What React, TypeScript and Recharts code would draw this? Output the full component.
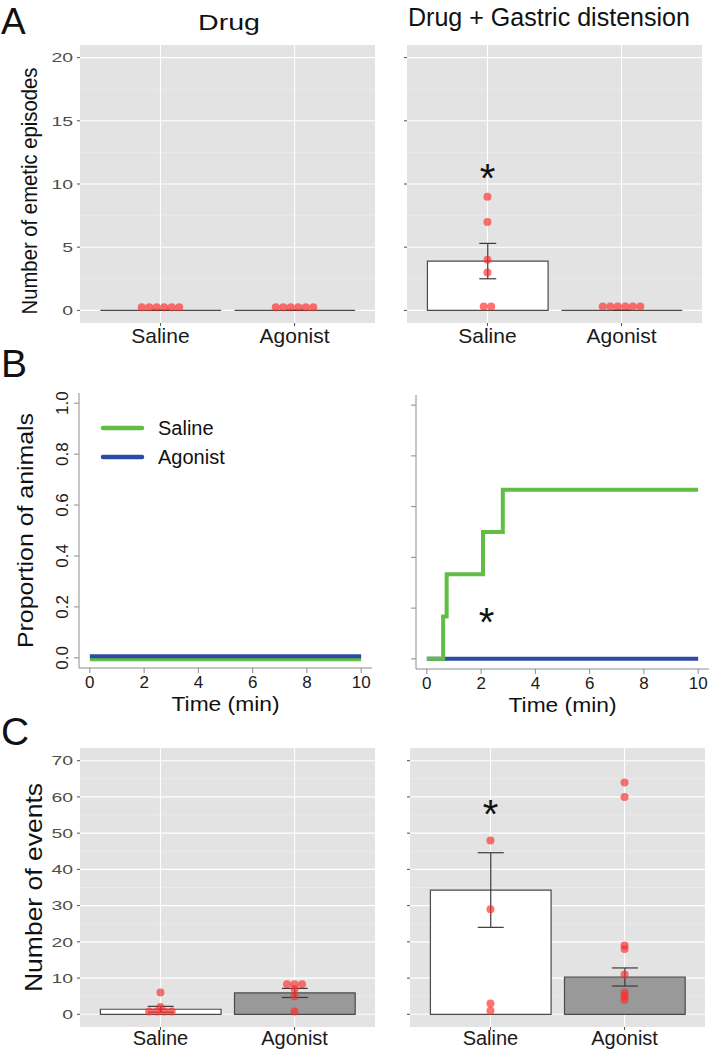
import React from "react";
import {
  ComposedChart,
  LineChart,
  Line,
  Bar,
  ErrorBar,
  Scatter,
  XAxis,
  YAxis,
  CartesianGrid,
  ReferenceDot,
  Legend,
  Label,
} from "recharts";

const FONT = "'Liberation Sans', Arial, Helvetica, sans-serif";
const PANEL_BG = "#e3e3e3";
const DOT_RED = "#ff2a2a";
const GREEN = "#62bd45";
const BLUE = "#2c4ba5";

const groups = ["Saline", "Agonist"];

// A - number of emetic episodes
const emesisTicks = [0, 5, 10, 15, 20];
const emesisMinor = [2.5, 7.5, 12.5, 17.5];
const emesisDrugMean = [0, 0];
const emesisDrugErr = [0, 0];
const emesisDrugSaline = [0.25, 0.25, 0.25, 0.25, 0.25, 0.25];
const emesisDrugAgonist = [0.25, 0.25, 0.25, 0.25, 0.25, 0.25];
const emesisGdMean = [3.9, 0];
const emesisGdErr = [1.4, 0];
const emesisGdSaline = [9, 7, 4, 3, 0.3, 0.3];
const emesisGdAgonist = [0.3, 0.3, 0.3, 0.3, 0.3, 0.3];

// B - proportion of animals over time
const timeTicks = [0, 2, 4, 6, 8, 10];
const propTicks = [0, 0.2, 0.4, 0.6, 0.8, 1];
const drugSalineT = [0, 10];
const drugSalineP = [-0.006, -0.006];
const drugAgonistT = [0, 10];
const drugAgonistP = [0.006, 0.006];
const gdSalineT = [0, 0.6, 0.73, 2.07, 2.8, 10];
const gdSalineP = [0, 0.167, 0.333, 0.5, 0.667, 0.667];
const gdAgonistT = [0, 10];
const gdAgonistP = [0, 0];

// C - number of events
const eventTicks = [0, 10, 20, 30, 40, 50, 60, 70];
const eventMinor = [5, 15, 25, 35, 45, 55, 65];
const eventDrugMean = [1.4, 5.9];
const eventDrugErr = [0.8, 1.25];
const eventDrugSaline = [6, 2, 0.8, 0.8, 0.8, 0.8];
const eventDrugAgonist = [8.3, 8.3, 8.3, 7, 5, 0.8];
const eventGdMean = [34.3, 10.3];
const eventGdErr = [10.3, 2.5];
const eventGdSaline = [48, 29, 3, 1];
const eventGdAgonist = [64, 60, 19, 18, 11, 6, 5, 4];

const DOT_STEP = 0.056;

// dotplot style: equal values are spread sideways around the group centre
function dotplot(vals: number[], centre: number) {
  return vals.map((v, i) => {
    const n = vals.filter((w) => w === v).length;
    const k = vals.slice(0, i).filter((w) => w === v).length;
    return { x: centre + (k - (n - 1) / 2) * DOT_STEP, v };
  });
}

const toSeries = (t: number[], p: number[]) => t.map((tt, i) => ({ t: tt, p: p[i] }));

const catTick = (dy: number, size: number) => (props: any) => (
  <text x={props.x} y={props.y} dy={dy} textAnchor="middle" fontSize={size} fontFamily={FONT} fill="#1a1a1a">
    {groups[props.payload.value - 1]}
  </text>
);

const ggTick = (props: any) => {
  const s = String(props.payload.value);
  return (
    <text
      x={props.x}
      y={props.y}
      dy={4.8}
      textAnchor="end"
      fontSize={13.5}
      fontFamily={FONT}
      fill="#4d4d4d"
      textLength={s.length * 10.8}
      lengthAdjust="spacingAndGlyphs"
    >
      {s}
    </text>
  );
};

const blankTick = () => <g />;

const vTitle = (text: string, len: number, size: number, bx: number, dy = 0) => (props: any) => {
  const vb = props.viewBox;
  const cy = vb.y + vb.height / 2 + dy;
  return (
    <text
      x={bx}
      y={cy}
      transform={`rotate(-90 ${bx} ${cy})`}
      textAnchor="middle"
      fontSize={size}
      fontFamily={FONT}
      fill="#111"
      textLength={len}
      lengthAdjust="spacingAndGlyphs"
    >
      {text}
    </text>
  );
};

const BarShape = (props: any) => {
  const { x, y, width, height, payload } = props;
  const h = Math.max(height || 0, 0);
  return (
    <path
      d={`M${x},${y}h${width}v${h}h${-width}Z`}
      fill={payload.fill}
      stroke="#4a4a4a"
      strokeWidth={1.2}
    />
  );
};

const DotShape = (props: any) => (
  <circle cx={props.cx} cy={props.cy} r={4} fill={DOT_RED} fillOpacity={0.66} />
);

const StarShape = (props: any) => (
  <text x={props.cx} y={props.cy + 23} textAnchor="middle" fontSize={40} fontFamily={FONT} fill="#111">
    *
  </text>
);

type BarPanelProps = {
  width: number;
  height: number;
  top: number;
  right: number;
  yWidth: number;
  xHeight: number;
  labelDy: number;
  labelSize: number;
  domain: [number, number];
  ticks: number[];
  minor: number[];
  means: number[];
  errs: number[];
  fills: string[];
  saline: number[];
  agonist: number[];
  cap: number;
  showY: boolean;
  title?: { text: string; len: number; size: number; bx: number; dy: number };
  star?: number;
};

function BarPanel(p: BarPanelProps) {
  const rows = groups.map((g, i) => ({
    x: i + 1,
    group: g,
    mean: p.means[i],
    err: [p.errs[i], p.errs[i]],
    fill: p.fills[i],
  }));
  const plotW = p.width - p.yWidth - p.right;
  const barSize = (plotW * 0.9) / 2.2;
  const dots = [...dotplot(p.saline, 1), ...dotplot(p.agonist, 2)];
  return (
    <ComposedChart width={p.width} height={p.height} data={rows} margin={{ top: p.top, right: p.right, bottom: 0, left: 0 }}>
      <CartesianGrid fill={PANEL_BG} fillOpacity={1} stroke="#efefef" strokeWidth={0.6} vertical={false} horizontalValues={p.minor} />
      <CartesianGrid stroke="#ffffff" strokeWidth={1.1} horizontalValues={p.ticks} verticalValues={[1, 2]} />
      <XAxis
        type="number"
        dataKey="x"
        domain={[0.4, 2.6]}
        ticks={[1, 2]}
        allowDataOverflow
        height={p.xHeight}
        axisLine={false}
        tickSize={3}
        tickMargin={2}
        tickLine={{ stroke: "#4d4d4d" }}
        tick={catTick(p.labelDy, p.labelSize)}
        interval={0}
      />
      <XAxis xAxisId="dots" type="number" dataKey="x" domain={[0.4, 2.6]} allowDataOverflow hide />
      <YAxis
        type="number"
        domain={p.domain}
        ticks={p.ticks}
        allowDataOverflow
        width={p.yWidth}
        axisLine={false}
        tickSize={3}
        tickMargin={4}
        tickLine={{ stroke: "#4d4d4d" }}
        tick={p.showY ? ggTick : blankTick}
        interval={0}
      >
        {p.title && <Label content={vTitle(p.title.text, p.title.len, p.title.size, p.title.bx, p.title.dy)} />}
      </YAxis>
      <Bar dataKey="mean" barSize={barSize} isAnimationActive={false} shape={BarShape}>
        <ErrorBar dataKey="err" width={p.cap} stroke="#3a3a3a" strokeWidth={1.2} direction="y" />
      </Bar>
      <Scatter xAxisId="dots" data={dots} dataKey="v" isAnimationActive={false} shape={DotShape} />
      {p.star !== undefined && <ReferenceDot x={1} y={p.star} r={0} shape={StarShape} />}
    </ComposedChart>
  );
}

const rTick = (show: boolean) => (props: any) => {
  if (!show) return <g />;
  const bx = props.x - 6;
  return (
    <text x={bx} y={props.y} transform={`rotate(-90 ${bx} ${props.y})`} textAnchor="middle" fontSize={17} fontFamily={FONT} fill="#1a1a1a">
      {Number(props.payload.value).toFixed(1)}
    </text>
  );
};

const timeTick = (props: any) => (
  <text x={props.x} y={props.y} dy={15} textAnchor="middle" fontSize={17} fontFamily={FONT} fill="#1a1a1a">
    {props.payload.value}
  </text>
);

const timeTitle = (props: any) => {
  const vb = props.viewBox;
  return (
    <text x={vb.x + vb.width / 2} y={vb.y + 43} textAnchor="middle" fontSize={20} fontFamily={FONT} fill="#111" textLength={108} lengthAdjust="spacingAndGlyphs">
      Time (min)
    </text>
  );
};

const LegendBox = (props: any) => {
  const items = [...(props.payload || [])].sort(
    (a: any, b: any) => groups.indexOf(a.value) - groups.indexOf(b.value)
  );
  return (
    <svg width={150} height={60}>
      {items.map((item: any, i: number) => (
        <g key={item.value}>
          <line x1={3} x2={42} y1={14 + i * 29} y2={14 + i * 29} stroke={item.color} strokeWidth={4.5} strokeLinecap="round" />
          <text x={58} y={21 + i * 29} fontSize={20} fontFamily={FONT} fill="#111">
            {item.value}
          </text>
        </g>
      ))}
    </svg>
  );
};

type LinePanelProps = {
  width: number;
  height: number;
  top: number;
  right: number;
  yWidth: number;
  xHeight: number;
  showY: boolean;
  saline: { t: number; p: number }[];
  agonist: { t: number; p: number }[];
  salineOnTop: boolean;
  legend?: boolean;
  star?: { x: number; y: number };
};

function LinePanel(p: LinePanelProps) {
  const salineLine = (
    <Line key="s" data={p.saline} dataKey="p" name="Saline" type="stepAfter" stroke={GREEN} strokeWidth={4} dot={false} isAnimationActive={false} />
  );
  const agonistLine = (
    <Line key="a" data={p.agonist} dataKey="p" name="Agonist" type="stepAfter" stroke={BLUE} strokeWidth={4} dot={false} isAnimationActive={false} />
  );
  return (
    <LineChart width={p.width} height={p.height} margin={{ top: p.top, right: p.right, bottom: 0, left: 0 }}>
      <XAxis
        type="number"
        dataKey="t"
        domain={[-0.4, 10.4]}
        ticks={timeTicks}
        allowDataOverflow
        height={p.xHeight}
        axisLine={{ stroke: "#8c8c8c" }}
        tickLine={{ stroke: "#8c8c8c" }}
        tickSize={5}
        tickMargin={0}
        tick={timeTick}
        interval={0}
      >
        <Label content={timeTitle} />
      </XAxis>
      <YAxis
        type="number"
        domain={[-0.04, 1.04]}
        ticks={propTicks}
        allowDataOverflow
        width={p.yWidth}
        axisLine={{ stroke: "#8c8c8c" }}
        tickLine={{ stroke: "#8c8c8c" }}
        tickSize={5}
        tickMargin={0}
        tick={rTick(p.showY)}
        interval={0}
      >
        {p.showY && <Label content={vTitle("Proportion of animals", 235, 22, 33)} />}
      </YAxis>
      {p.salineOnTop ? [agonistLine, salineLine] : [salineLine, agonistLine]}
      {p.legend && (
        <Legend
          layout="vertical"
          align="center"
          verticalAlign="middle"
          content={LegendBox}
          wrapperStyle={{ left: 100, top: 74, width: 150, height: 60 }}
        />
      )}
      {p.star && <ReferenceDot x={p.star.x} y={p.star.y} r={0} shape={StarShape} />}
    </LineChart>
  );
}

export default function App() {
  return (
    <div style={{ position: "relative", width: 709, height: 1050, background: "#fff", overflow: "hidden", fontFamily: FONT }}>
      <style>{`body{margin:0}`}</style>

      <div style={{ position: "absolute", left: 0, top: 0 }}>
        <BarPanel
          width={380} height={350} top={45} right={5} yWidth={80} xHeight={27} labelDy={15} labelSize={21}
          domain={[-1, 21]} ticks={emesisTicks} minor={emesisMinor}
          means={emesisDrugMean} errs={emesisDrugErr} fills={["#ffffff", "#ffffff"]}
          saline={emesisDrugSaline} agonist={emesisDrugAgonist} cap={8.5} showY
          title={{ text: "Number of emetic episodes", len: 247, size: 22, bx: 37, dy: 7 }}
        />
      </div>
      <div style={{ position: "absolute", left: 380, top: 0 }}>
        <BarPanel
          width={329} height={350} top={45} right={7} yWidth={27} xHeight={27} labelDy={15} labelSize={21}
          domain={[-1, 21]} ticks={emesisTicks} minor={emesisMinor}
          means={emesisGdMean} errs={emesisGdErr} fills={["#ffffff", "#ffffff"]}
          saline={emesisGdSaline} agonist={emesisGdAgonist} cap={8.5} showY={false}
          star={11.2}
        />
      </div>

      <div style={{ position: "absolute", left: 0, top: 340 }}>
        <LinePanel
          width={380} height={380} top={53} right={8} yWidth={79} xHeight={52} showY
          saline={toSeries(drugSalineT, drugSalineP)} agonist={toSeries(drugAgonistT, drugAgonistP)}
          salineOnTop={false} legend
        />
      </div>
      <div style={{ position: "absolute", left: 380, top: 340 }}>
        <LinePanel
          width={329} height={380} top={55} right={0} yWidth={36} xHeight={51} showY={false}
          saline={toSeries(gdSalineT, gdSalineP)} agonist={toSeries(gdAgonistT, gdAgonistP)}
          salineOnTop star={{ x: 2.2, y: 0.18 }}
        />
      </div>

      <div style={{ position: "absolute", left: 0, top: 720 }}>
        <BarPanel
          width={380} height={330} top={28} right={5} yWidth={80} xHeight={23} labelDy={13} labelSize={20}
          domain={[-3.5, 73.5]} ticks={eventTicks} minor={eventMinor}
          means={eventDrugMean} errs={eventDrugErr} fills={["#ffffff", "#999999"]}
          saline={eventDrugSaline} agonist={eventDrugAgonist} cap={13} showY
          title={{ text: "Number of events", len: 209, size: 24, bx: 42, dy: 0 }}
        />
      </div>
      <div style={{ position: "absolute", left: 380, top: 720 }}>
        <BarPanel
          width={329} height={330} top={28} right={4} yWidth={30} xHeight={23} labelDy={13} labelSize={20}
          domain={[-3.5, 73.5]} ticks={eventTicks} minor={eventMinor}
          means={eventGdMean} errs={eventGdErr} fills={["#ffffff", "#999999"]}
          saline={eventGdSaline} agonist={eventGdAgonist} cap={13} showY={false}
          star={57.8}
        />
      </div>

      <svg width={709} height={1050} style={{ position: "absolute", left: 0, top: 0, pointerEvents: "none" }}>
        <g fontFamily={FONT} fill="#111">
          <text x={1} y={34} fontSize={37}>A</text>
          <text x={1} y={377} fontSize={39}>B</text>
          <text x={1} y={745} fontSize={39}>C</text>
          <text x={229} y={30} fontSize={22} textAnchor="middle" textLength={62} lengthAdjust="spacingAndGlyphs">Drug</text>
          <text x={549} y={26} fontSize={26} textAnchor="middle" textLength={282} lengthAdjust="spacingAndGlyphs">
            Drug + Gastric distension
          </text>
        </g>
      </svg>
    </div>
  );
}
